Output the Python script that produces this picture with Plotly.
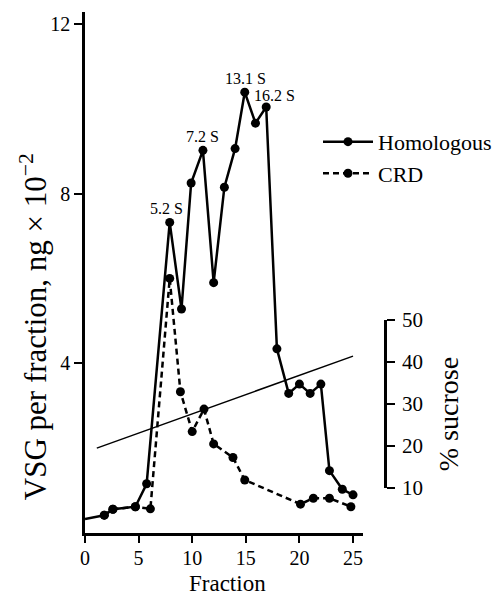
import plotly.graph_objects as go

# Data
hom_frac = [0, 1.8, 2.6, 4.7, 5.75, 7.9, 9.0, 9.9, 11.0, 12.0, 13.0, 14.0, 14.9, 15.9, 16.9, 17.9, 19.0, 20.0, 21.0, 22.0, 22.8, 24.0, 25.0]
hom_vsg = [0.33, 0.42, 0.56, 0.62, 1.16, 7.32, 5.28, 8.25, 9.02, 5.90, 8.15, 9.06, 10.39, 9.66, 10.04, 4.34, 3.29, 3.51, 3.29, 3.51, 1.47, 1.03, 0.90]

crd_frac = [1.8, 2.6, 4.7, 6.1, 7.9, 8.9, 10.0, 11.1, 12.0, 13.8, 14.9, 20.1, 21.3, 22.8, 24.8]
crd_vsg = [0.42, 0.56, 0.62, 0.57, 6.0, 3.33, 2.39, 2.92, 2.10, 1.78, 1.25, 0.68, 0.82, 0.82, 0.62]

sucrose_frac = [1.1, 25.0]
sucrose_pct = [19.5, 41.4]

peak_labels = ["5.2 S", "7.2 S", "13.1 S", "16.2 S"]
peak_idx = [5, 8, 12, 14]

x_ticks = [0, 5, 10, 15, 20, 25]
y_ticks = [4, 8, 12]
y2_ticks = [10, 20, 30, 40, 50]

FONT = "Liberation Serif"
fig = go.Figure()

# leading segment from axis (no marker)
fig.add_trace(go.Scatter(x=hom_frac[:2], y=hom_vsg[:2], mode="lines",
                         line=dict(color="black", width=2.5), showlegend=False, hoverinfo="skip"))
fig.add_trace(go.Scatter(x=crd_frac, y=crd_vsg, mode="lines+markers", name="CRD",
                         line=dict(color="black", width=2.5, dash="6px,4px"),
                         marker=dict(color="black", size=9)))
fig.add_trace(go.Scatter(x=hom_frac[1:], y=hom_vsg[1:], mode="lines+markers", name="Homologous",
                         line=dict(color="black", width=2.5),
                         marker=dict(color="black", size=9)))
fig.add_trace(go.Scatter(x=sucrose_frac, y=sucrose_pct, mode="lines", xaxis="x", yaxis="y2",
                         line=dict(color="black", width=1.5), showlegend=False))

shifts = [(-3, 14), (0, 14), (1, 14), (8, 12)]
for lab, i, (dx, dy) in zip(peak_labels, peak_idx, shifts):
    fig.add_annotation(x=hom_frac[i], y=hom_vsg[i], text=lab, showarrow=False,
                       xshift=dx, yshift=dy, font=dict(family=FONT, size=16, color="black"))

W = 412.0  # plot-area width in px (l=85, r=0)
# axis titles placed as text
fig.add_annotation(xref="paper", yref="paper", x=(33 - 85) / W, y=0.395, xanchor="center", yanchor="middle",
                   text="VSG per fraction, ng × 10<sup>−2</sup>",
                   textangle=-90, showarrow=False, font=dict(family=FONT, size=31, color="black"))
fig.add_annotation(xref="paper", yref="paper", x=(448 - 85) / W, y=0.228, xanchor="center", yanchor="middle",
                   text="% sucrose",
                   textangle=-90, showarrow=False, font=dict(family=FONT, size=28, color="black"))
fig.add_annotation(xref="paper", yref="paper", x=(227 - 85) / W, y=-0.096, xanchor="center", yanchor="middle",
                   text="Fraction", showarrow=False, font=dict(family=FONT, size=23, color="black"))

fig.update_layout(
    width=497, height=595,
    margin=dict(l=85, r=0, t=12, b=62),
    paper_bgcolor="white", plot_bgcolor="rgba(0,0,0,0)",
    font=dict(family=FONT, color="black", size=20),
    xaxis=dict(domain=[0, 278 / W], range=[0, 25.93], tickvals=x_ticks, showgrid=False, zeroline=False,
               showline=True, linecolor="black", linewidth=2.5, ticks="outside", ticklen=7,
               tickwidth=2, tickcolor="black", tickfont=dict(size=20), ticklabelstandoff=-2,
               automargin=False),
    yaxis=dict(range=[0, 12.28], tickvals=y_ticks, showgrid=False, zeroline=False,
               showline=True, linecolor="black", linewidth=2.5, ticks="outside", ticklen=8,
               tickwidth=2, tickcolor="black", tickfont=dict(size=20), automargin=False),
    yaxis2=dict(domain=[0.0864, 0.4088], range=[10, 50], tickvals=y2_ticks, anchor="free", position=300 / W,
                side="right", showgrid=False, zeroline=False, showline=True, linecolor="black",
                linewidth=2.5, ticks="outside", ticklen=8, tickwidth=2, tickcolor="black",
                tickfont=dict(size=21), ticklabelstandoff=3, automargin=False),
    legend=dict(x=1.0, y=0.791, xanchor="right", yanchor="top",
                font=dict(size=22), traceorder="reversed", bgcolor="rgba(0,0,0,0)",
                itemwidth=50, tracegroupgap=0),
    showlegend=True,
)

fig.write_html("out.html")
